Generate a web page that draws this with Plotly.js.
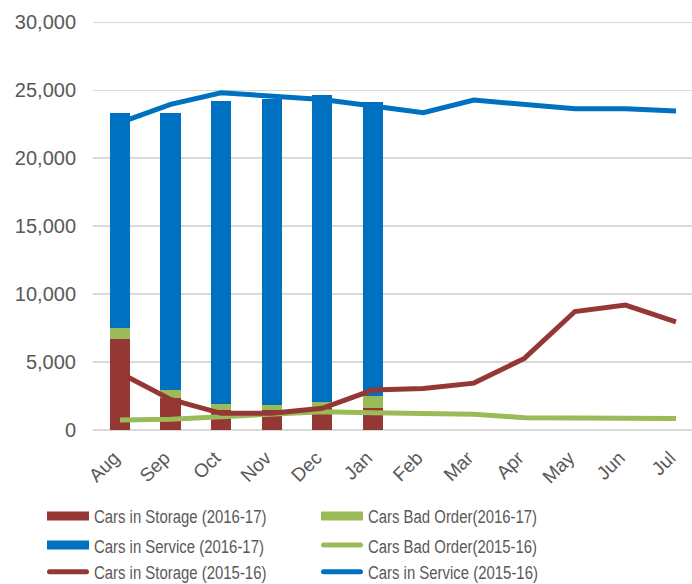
<!DOCTYPE html>
<html>
<head>
<meta charset="utf-8">
<script src="https://cdn.plot.ly/plotly-3.0.1.min.js"></script>
<style>html,body{margin:0;padding:0;background:#fff;}#chart{width:692px;height:584px;}</style>
</head>
<body>
<div id="chart"></div>
<script>
const months = ["Aug","Sep","Oct","Nov","Dec","Jan","Feb","Mar","Apr","May","Jun","Jul"];
const barMonths = ["Aug","Sep","Oct","Nov","Dec","Jan"];

// 2016-17 (stacked bars)
const storage1617 = [6700, 2350, 1450, 1450, 1600, 1600];
const badOrder1617 = [790, 620, 450, 400, 460, 900];
const service1617 = [15830, 20370, 22280, 22480, 22610, 21630];

// 2015-16 (lines)
const badOrder1516 = [740, 790, 980, 1150, 1340, 1270, 1220, 1150, 910, 860, 860, 840];
const storage1516 = [4200, 2250, 1230, 1230, 1600, 2940, 3060, 3450, 5270, 8720, 9190, 7960];
const service1516 = [22620, 23960, 24820, 24570, 24330, 23840, 23350, 24280, 23960, 23640, 23640, 23470];

const RED = "#953735", GREEN = "#9BBB59", BLUE = "#0070C0";
const LEG_FONT_SIZE = 19;
const LEG_FONT = "Liberation Sans, Arial, sans-serif";
const LEG_SQUEEZE = 0.785;

const data = [
  {type: "bar", name: "Cars in Storage (2016-17)", x: barMonths, y: storage1617, marker: {color: RED}, legend: "legend"},
  {type: "bar", name: "Cars Bad Order(2016-17)", x: barMonths, y: badOrder1617, marker: {color: GREEN}, legend: "legend"},
  {type: "bar", name: "Cars in Service (2016-17)", x: barMonths, y: service1617, marker: {color: BLUE}, legend: "legend2"},
  {type: "scatter", mode: "lines", name: "Cars Bad Order(2015-16)", x: months, y: badOrder1516, line: {color: GREEN, width: 5}, legend: "legend2"},
  {type: "scatter", mode: "lines", name: "Cars in Storage (2015-16)", x: months, y: storage1516, line: {color: RED, width: 5}, legend: "legend3"},
  {type: "scatter", mode: "lines", name: "Cars in Service (2015-16)", x: months, y: service1516, line: {color: BLUE, width: 5}, legend: "legend3"}
];

function legendRow(yPos) {
  return {
    orientation: "h", traceorder: "normal",
    x: -0.0818, xanchor: "left", y: yPos, yanchor: "middle",
    entrywidth: 219, entrywidthmode: "pixels", itemwidth: 40,
    font: {family: LEG_FONT, size: LEG_FONT_SIZE, color: "#595959"},
    bgcolor: "rgba(0,0,0,0)", borderwidth: 0
  };
}

const layout = {
  width: 692, height: 584,
  margin: {l: 93, r: 0, t: 20.64, b: 154, autoexpand: false},
  paper_bgcolor: "#fff", plot_bgcolor: "#fff",
  font: {family: "Liberation Sans, Arial, sans-serif", color: "#595959"},
  barmode: "stack",
  bargap: 0.6,
  showlegend: true,
  xaxis: {
    type: "category", categoryorder: "array", categoryarray: months,
    range: [-0.535, 11.317],
    tickangle: -45, tickfont: {size: 19, color: "#595959"},
    ticklabelstandoff: 12, ticklabelshift: -6,
    showgrid: false, showline: false, zeroline: false, ticks: ""
  },
  yaxis: {
    range: [0, 30100], tickvals: [0, 5000, 10000, 15000, 20000, 25000, 30000], tickformat: ",",
    tickfont: {size: 20, color: "#595959"},
    showgrid: true, gridcolor: "#d9d9d9", gridwidth: 1.5,
    zeroline: true, zerolinecolor: "#d9d9d9", zerolinewidth: 2,
    showline: false, ticks: "", ticklabelstandoff: 16
  },
  legend: legendRow(-0.2108),
  legend2: legendRow(-0.2818),
  legend3: legendRow(-0.347)
};

function styleLegends() {
  const gd = document.getElementById("chart");
  gd.querySelectorAll(".legendpoints path").forEach(function (p) {
    p.setAttribute("transform", "translate(0,0)");
    p.setAttribute("d", "M3,-4.5h42v9h-42z");
  });
  gd.querySelectorAll(".legendlines path").forEach(function (p) {
    p.setAttribute("d", "M5.5,0h37");
    p.style.strokeLinecap = "round";
  });
  gd.querySelectorAll("g.traces text").forEach(function (t) {
    t.removeAttribute("textLength");
    t.removeAttribute("lengthAdjust");
    const x = parseFloat(t.getAttribute("x")) || 0;
    t.setAttribute("transform", "translate(" + (x * (1 - LEG_SQUEEZE)).toFixed(2) + ",0) scale(" + LEG_SQUEEZE + ",1)");
  });
}

Plotly.newPlot("chart", data, layout, {displayModeBar: false, staticPlot: true}).then(function (gd) {
  styleLegends();
  gd.on("plotly_afterplot", styleLegends);
  requestAnimationFrame(styleLegends);
  setTimeout(styleLegends, 0);
  setTimeout(styleLegends, 100);
});
</script>
</body>
</html>
